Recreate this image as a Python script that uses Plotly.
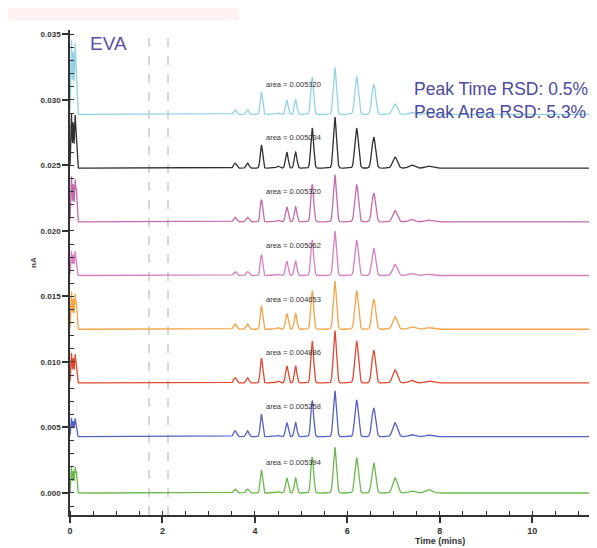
import numpy as np
import plotly.graph_objects as go

# ---------------- data ----------------
# retention times of the chromatographic peaks (min)
peak_times = [3.57, 3.84, 4.14, 4.50, 4.69, 4.88, 5.24, 5.73, 6.20, 6.57, 7.03, 7.39, 7.76]
# peak widths (sigma, min)
peak_widths = [0.03, 0.03, 0.025, 0.03, 0.028, 0.028, 0.03, 0.033, 0.038, 0.04, 0.05, 0.06, 0.07]

# solvent-front spikes near t = 0
front_times = [0.03, 0.07, 0.11, 0.14]
front_widths = [0.012, 0.012, 0.012, 0.012]

# runs, listed bottom to top (baseline offsets in nA)
run_names = ["Run 1", "Run 2", "Run 3", "Run 4", "Run 5", "Run 6", "Run 7", "Run 8"]
run_colors = ["#6cb84c", "#5561c2", "#e0472f", "#f4a447", "#d77fc0", "#c46aac", "#2f2f2f", "#93d2e3"]
baselines = [0.0000, 0.0043, 0.0084, 0.0125, 0.0166, 0.0207, 0.0248, 0.0289]

# peak heights above baseline (x 1e-3 nA)
heights_run1 = [0.30, 0.30, 1.75, 0.10, 1.15, 1.15, 2.75, 3.50, 2.70, 2.30, 1.15, 0.15, 0.25]
heights_run2 = [0.45, 0.45, 1.70, 0.10, 1.07, 1.07, 2.75, 3.50, 2.80, 2.20, 1.07, 0.15, 0.12]
heights_run3 = [0.40, 0.40, 1.90, 0.15, 1.30, 1.30, 3.20, 4.00, 3.20, 2.50, 1.00, 0.20, 0.15]
heights_run4 = [0.40, 0.40, 1.80, 0.12, 1.20, 1.20, 2.95, 3.70, 2.95, 2.30, 0.95, 0.18, 0.12]
heights_run5 = [0.30, 0.30, 1.60, 0.10, 1.10, 1.10, 2.70, 3.40, 2.70, 2.10, 0.85, 0.15, 0.10]
heights_run6 = [0.35, 0.35, 1.70, 0.12, 1.15, 1.15, 2.85, 3.60, 2.85, 2.20, 0.85, 0.18, 0.12]
heights_run7 = [0.38, 0.38, 1.76, 0.15, 1.22, 1.22, 3.05, 3.90, 3.05, 2.37, 0.84, 0.23, 0.15]
heights_run8 = [0.35, 0.35, 1.70, 0.12, 1.10, 1.10, 2.85, 3.60, 2.90, 2.30, 0.80, 0.15, 0.10]
run_heights = [heights_run1, heights_run2, heights_run3, heights_run4,
               heights_run5, heights_run6, heights_run7, heights_run8]

# solvent-front heights (x 1e-3 nA)
front_heights = [[2.0, 1.7, 1.9, 1.5], [1.45, 1.2, 1.35, 1.0], [2.3, 1.9, 2.1, 1.6],
                 [2.9, 2.3, 2.6, 2.0], [1.9, 1.6, 1.8, 1.3], [3.5, 2.9, 3.1, 2.4],
                 [4.2, 3.5, 3.9, 3.0], [5.7, 4.8, 5.2, 4.0]]

area_labels = ["area = 0.005394", "area = 0.005258", "area = 0.004886", "area = 0.004653",
               "area = 0.005062", "area = 0.005320", "area = 0.005034", "area = 0.005320"]

dashed_times = [1.71, 2.12]

x_ticks = [0, 2, 4, 6, 8, 10]
y_ticks = [0.000, 0.005, 0.010, 0.015, 0.020, 0.025, 0.030, 0.035]

# ---------------- figure ----------------
t = np.arange(0, 11.4, 0.004)


def chromatogram(base, heights, fheights):
    y = np.full_like(t, base)
    for tp, w, h in zip(peak_times, peak_widths, heights):
        y += h * 1e-3 * np.exp(-0.5 * ((t - tp) / w) ** 2)
    for tp, w, h in zip(front_times, front_widths, fheights):
        y += h * 1e-3 * np.exp(-0.5 * ((t - tp) / w) ** 2)
    return y


fig = go.Figure()
for name, col, base, hts, fh in zip(run_names, run_colors, baselines, run_heights, front_heights):
    fig.add_trace(go.Scatter(x=t, y=chromatogram(base, hts, fh), mode="lines", name=name,
                             line=dict(color=col, width=1.3), showlegend=False,
                             hoverinfo="skip"))

annotations = []
for base, lab in zip(baselines, area_labels):
    annotations.append(dict(x=4.2, y=base + 0.0023, xref="x", yref="y", text=lab,
                            showarrow=False, xanchor="left", yanchor="middle",
                            font=dict(family="Arial", size=7.5, color="#333333")))
annotations.append(dict(x=0.38, y=0.0343, xref="x", yref="y", text="EVA", showarrow=False,
                        xanchor="left", yanchor="middle",
                        font=dict(family="Arial", size=19, color="#5a4fa6")))
annotations.append(dict(x=7.4, y=0.02995, xref="x", yref="y",
                        text="Peak Time RSD: 0.5%<br>Peak Area RSD: 5.3%", showarrow=False,
                        xanchor="left", yanchor="middle", align="left",
                        font=dict(family="Arial", size=17.5, color="#4b4b9e")))
annotations.append(dict(x=8.0, y=-0.053, xref="x", yref="paper", text="<b>Time (mins)</b>",
                        showarrow=False, xanchor="center", yanchor="middle",
                        font=dict(family="Arial", size=9, color="#333333")))
annotations.append(dict(x=-0.068, y=0.52, xref="paper", yref="paper", text="<b>nA</b>",
                        showarrow=False, textangle=-90, xanchor="center", yanchor="middle",
                        font=dict(family="Arial", size=8, color="#444444")))

shapes = []
for dt in dashed_times:
    shapes.append(dict(type="line", x0=dt, x1=dt, y0=0, y1=0.99, xref="x", yref="paper",
                       line=dict(color="#b0b0b0", width=1, dash="dash"), layer="below"))
shapes.append(dict(type="rect", x0=-0.118, x1=0.32, y0=1.02, y1=1.048, xref="paper", yref="paper",
                   fillcolor="rgba(246,205,200,0.25)", line=dict(width=0), layer="below"))

fig.update_layout(
    width=589, height=540,
    margin=dict(l=62, r=0, t=22, b=33),
    paper_bgcolor="white", plot_bgcolor="white",
    annotations=annotations, shapes=shapes,
    xaxis=dict(range=[0, 11.4], tickvals=x_ticks, ticktext=["<b>%d</b>" % v for v in x_ticks],
               showgrid=False, zeroline=False, showline=True, linecolor="#333333", linewidth=1.5,
               ticks="outside", ticklen=6, tickwidth=1.5, tickcolor="#333333",
               tickfont=dict(family="Arial", size=9, color="#333333"),
               minor=dict(dtick=0.5, ticks="inside", ticklen=4, tickcolor="#333333", tickwidth=1),
               fixedrange=True),
    yaxis=dict(range=[-0.00168, 0.03534], tickvals=y_ticks,
               ticktext=["<b>%.3f</b>" % v for v in y_ticks],
               showgrid=False, zeroline=False, showline=True, linecolor="#333333", linewidth=1.5,
               ticks="outside", ticklen=6, tickwidth=1.5, tickcolor="#333333",
               tickfont=dict(family="Arial", size=8, color="#333333"),
               minor=dict(dtick=0.001, ticks="inside", ticklen=4, tickcolor="#333333", tickwidth=1),
               fixedrange=True),
)

fig.write_html("out.html")
